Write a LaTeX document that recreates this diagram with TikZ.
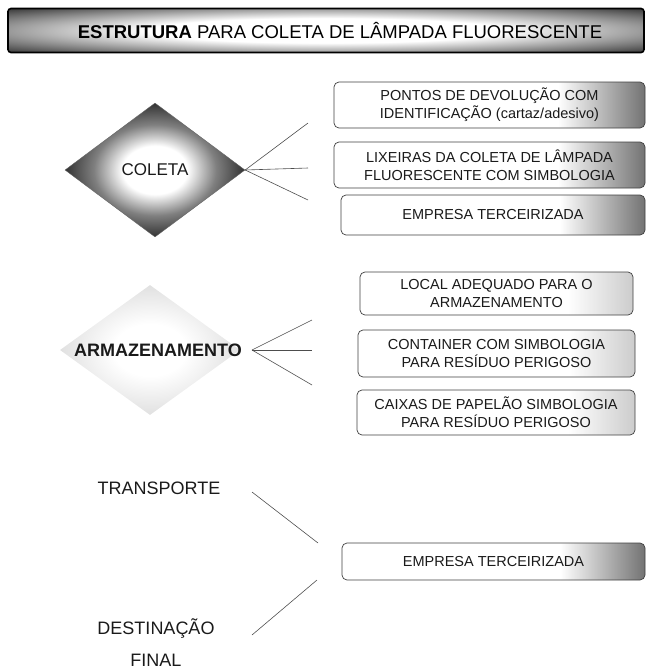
\documentclass[tikz,border=0pt]{standalone}
\usepackage{fontspec}
\setmainfont{Liberation Sans}
\usepackage{xcolor}
\usepackage{tikz}
\usetikzlibrary{shapes.geometric, positioning}
\definecolor{tinta}{HTML}{1A1A1A}
\definecolor{traco}{HTML}{4D4D4D}
\pgfdeclarehorizontalshading{caixaescura}{100bp}{color(0bp)=(white); color(25bp)=(white); color(61bp)=(white); color(75bp)=(black!55); color(100bp)=(black!55)}
\pgfdeclarehorizontalshading{caixaclara}{100bp}{color(0bp)=(white); color(25bp)=(white); color(63bp)=(white); color(75bp)=(black!20); color(100bp)=(black!20)}
\pgfdeclareradialshading{faixa}{\pgfpoint{0bp}{0bp}}{color(0bp)=(white); color(14bp)=(white); color(25bp)=(black!40); color(36bp)=(black!80); color(50bp)=(black!80)}
\pgfdeclareradialshading{losangoescuro}{\pgfpoint{0bp}{0bp}}{color(0bp)=(white); color(9bp)=(white); color(17bp)=(black!50); color(25bp)=(black!80); color(50bp)=(black!80)}
\pgfdeclareradialshading{losangoclaro}{\pgfpoint{0bp}{0bp}}{color(0bp)=(white); color(10bp)=(white); color(25bp)=(black!12); color(50bp)=(black!12)}
\tikzset{
  losango/.style={diamond, inner sep=0pt, minimum width=180pt,
    minimum height=134pt, font=\fontsize{17}{20}\selectfont, text=tinta},
  caixa/.style={rectangle, rounded corners=5pt, draw=black!75,
    line width=0.7pt, align=center, text=tinta,
    font=\fontsize{14.5}{18}\selectfont},
  etapa/.style={font=\fontsize{18}{21}\selectfont, align=center, text=tinta},
  linha/.style={draw=traco, line width=0.6pt}
}

\begin{document}
\begin{tikzpicture}[x=1pt, y=-1pt]
  \useasboundingbox (0,0) rectangle (647,670);

  % --- Titulo ---
  \node[rectangle, rounded corners=3pt, draw=black, line width=1.6pt,
    shading=faixa, minimum width=636pt, minimum height=44pt] (titulofundo) at (326,30.5) {};
  \node[font=\fontsize{18.5}{22}\selectfont, text=black] (titulo) at (340,31)
    {\textbf{ESTRUTURA} PARA COLETA DE LÂMPADA FLUORESCENTE};

  % --- Coleta ---
  \node[losango, shading=losangoescuro, draw=black!60] (coleta) at (155,170) {COLETA};
  \node[caixa, shading=caixaescura, minimum width=311pt, minimum height=46pt] (pontos) at (489.5,105)
    {PONTOS DE DEVOLUÇÃO COM\\IDENTIFICAÇÃO (cartaz/adesivo)};
  \node[caixa, shading=caixaescura, minimum width=311pt, minimum height=46pt] (lixeiras) at (489.5,165)
    {LIXEIRAS DA COLETA DE LÂMPADA\\FLUORESCENTE COM SIMBOLOGIA};
  \node[caixa, shading=caixaescura, minimum width=304pt, minimum height=40pt] (empresacoleta) at (493,215)
    {EMPRESA TERCEIRIZADA};

  \coordinate (col1) at (308,123);
  \coordinate (col2) at (308,168);
  \coordinate (col3) at (308,200);
  \foreach \p in {col1,col2,col3}
    \draw[linha] (coleta.east) -- (\p);

  % --- Armazenamento ---
  \node[losango, minimum height=130pt, shading=losangoclaro] (armazenamento) at (150,350) {};
  \node[etapa, font=\bfseries\fontsize{18}{21}\selectfont] (armazenamentotexto) at (158,350) {ARMAZENAMENTO};
  \node[caixa, shading=caixaclara, minimum width=273pt, minimum height=43pt] (local) at (496.5,293.5)
    {LOCAL ADEQUADO PARA O\\ARMAZENAMENTO};
  \node[caixa, shading=caixaclara, minimum width=277pt, minimum height=47pt] (container) at (496.5,353.5)
    {CONTAINER COM SIMBOLOGIA\\PARA RESÍDUO PERIGOSO};
  \node[caixa, shading=caixaclara, minimum width=278pt, minimum height=45pt] (caixas) at (496,412.5)
    {CAIXAS DE PAPELÃO SIMBOLOGIA\\PARA RESÍDUO PERIGOSO};

  \coordinate (armponta) at (252,350);
  \coordinate (arm1) at (312,320);
  \coordinate (arm2) at (312,350);
  \coordinate (arm3) at (312,385);
  \foreach \p in {arm1,arm2,arm3}
    \draw[linha] (armponta) -- (\p);

  % --- Transporte e destinacao ---
  \node[etapa] (transporte) at (159,488) {TRANSPORTE};
  \node[etapa] (destinacao) at (156,643) {DESTINAÇÃO\\[11pt]FINAL};
  \node[caixa, shading=caixaescura, minimum width=303pt, minimum height=37pt] (empresafinal) at (493.5,561.5)
    {EMPRESA TERCEIRIZADA};

  \coordinate (tra1) at (252,492);
  \coordinate (tra2) at (318,543);
  \coordinate (des1) at (252,635);
  \coordinate (des2) at (317,580);
  \draw[linha] (tra1) -- (tra2);
  \draw[linha] (des1) -- (des2);

\end{tikzpicture}
\end{document}
